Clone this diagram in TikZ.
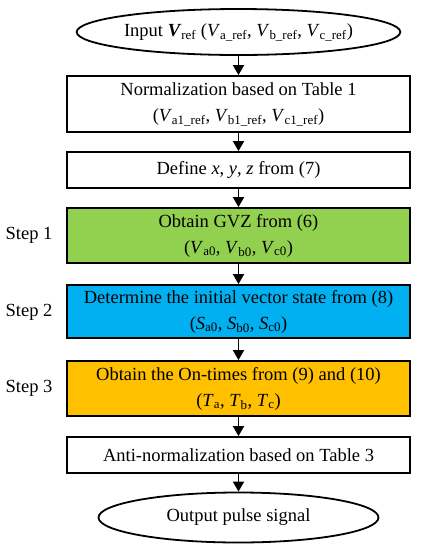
\documentclass[tikz,border=0pt]{standalone}
\usepackage{fontspec}
\setmainfont{Liberation Serif}
\usetikzlibrary{shapes.geometric,arrows.meta}
\definecolor{cgreen}{HTML}{92D050}
\definecolor{cblue}{HTML}{00B0F0}
\definecolor{corange}{HTML}{FFC000}
\newcommand\vsub[2]{\textit{#1}\textsubscript{#2}}
\begin{document}
\begin{tikzpicture}[x=1pt,y=1pt,
  every node/.style={font=\fontsize{18.5}{26}\selectfont},
  box/.style={draw, line width=1.8pt, minimum width=343pt, align=center, inner sep=0pt},
  term/.style={draw, ellipse, line width=1.8pt, minimum width=280pt, inner sep=0pt},
  arr/.style={-{Triangle[length=10pt,width=11pt]}, line width=1.8pt},
  steplbl/.style={anchor=center}]
\useasboundingbox (0,0) rectangle (422,-550);
\node[term, minimum height=46pt] (in) at (238.5,-32) {Input \textbf{\textit{V}}\textsubscript{ref} (\vsub{V}{a\_ref}, \vsub{V}{b\_ref}, \vsub{V}{c\_ref})};
\node[box, minimum height=56pt] (norm) at (238.5,-104) {Normalization based on Table 1\\(\vsub{V}{a1\_ref}, \vsub{V}{b1\_ref}, \vsub{V}{c1\_ref})};
\node[box, minimum height=36pt] (def) at (238.5,-170) {Define \textit{x}, \textit{y}, \textit{z} from (7)};
\node[box, fill=cgreen, minimum height=55pt] (s1) at (238.5,-235.5) {Obtain GVZ from (6)\\(\vsub{V}{a0}, \vsub{V}{b0}, \vsub{V}{c0})};
\node[box, fill=cblue, minimum height=53pt] (s2) at (238.5,-311.5) {Determine the initial vector state from (8)\\(\vsub{S}{a0}, \vsub{S}{b0}, \vsub{S}{c0})};
\node[box, fill=corange, minimum height=55pt] (s3) at (238.5,-388.5) {Obtain the On-times from (9) and (10)\\(\vsub{T}{a}, \vsub{T}{b}, \vsub{T}{c})};
\node[box, minimum height=36pt] (anti) at (238.5,-455) {Anti-normalization based on Table 3};
\node[term, minimum height=50pt] (out) at (238.5,-517.5) {Output pulse signal};
\node[steplbl] (l1) at (29,-235) {Step 1};
\node[steplbl] (l2) at (29,-312) {Step 2};
\node[steplbl] (l3) at (29,-388) {Step 3};
\draw[arr] (in) -- (norm);
\draw[arr] (norm) -- (def);
\draw[arr] (def) -- (s1);
\draw[arr] (s1) -- (s2);
\draw[arr] (s2) -- (s3);
\draw[arr] (s3) -- (anti);
\draw[arr] (anti) -- (out);
\end{tikzpicture}
\end{document}
